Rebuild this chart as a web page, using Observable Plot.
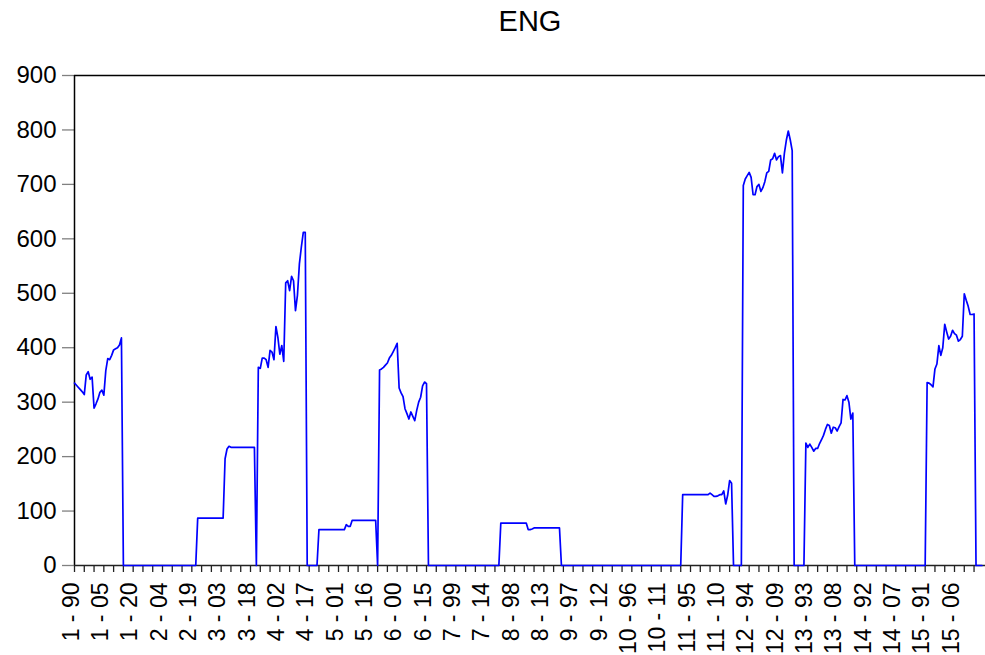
<!DOCTYPE html>
<html>
<head>
<meta charset="utf-8">
<script src="https://cdn.jsdelivr.net/npm/d3@7"></script>
<script src="https://cdn.jsdelivr.net/npm/@observablehq/plot@0.6"></script>
<style>
  html, body { margin: 0; padding: 0; background: #ffffff; }
</style>
</head>
<body>
<div id="chart"></div>
<script>
const title = "ENG";

// Values per cross-section (31 years each, 1990-2020)
const cs1  = [335,331,327,323,319,314,350,356,342,346,289,297,306,318,322,313,358,380,378,386,396,398,400,405,418,0,0,0,0,0,0];
const cs2  = [0,0,0,0,0,0,0,0,0,0,0,0,0,0,0,0,0,0,0,0,0,0,0,0,0,0,0,0,0,0,0];
const cs3  = [0,87,87,87,87,87,87,87,87,87,87,87,87,87,87,196,214,219,217,217,217,217,217,217,217,217,217,217,217,217,217];
const cs4  = [0,364,362,381,381,378,364,395,392,378,439,419,388,404,375,519,523,505,531,523,468,496,554,585,612,612,0,0,0,0,0];
const cs5  = [0,66,66,66,66,66,66,66,66,66,66,66,66,66,66,75,72,72,83,83,83,83,83,83,83,83,83,83,83,83,83];
const cs6  = [0,359,361,364,368,372,381,386,393,400,408,326,317,310,288,279,269,282,274,266,285,300,309,330,337,334,0,0,0,0,0];
const cs7  = [0,0,0,0,0,0,0,0,0,0,0,0,0,0,0,0,0,0,0,0,0,0,0,0,0,0,0,0,0,0,0];
const cs8  = [0,78,78,78,78,78,78,78,78,78,78,78,78,78,78,66,66,67,69,69,69,69,69,69,69,69,69,69,69,69,69];
const cs9  = [69,0,0,0,0,0,0,0,0,0,0,0,0,0,0,0,0,0,0,0,0,0,0,0,0,0,0,0,0,0,0];
const cs10 = [0,0,0,0,0,0,0,0,0,0,0,0,0,0,0,0,0,0,0,0,0,0,0,0,0,0,0,0,0,0,0];
const cs11 = [0,130,130,130,130,130,130,130,130,130,130,130,130,130,130,133,130,127,127,128,130,130,137,113,129,156,151,0,0,0,0];
const cs12 = [0,698,710,716,722,713,681,681,696,700,687,694,705,721,724,745,747,757,745,751,753,721,757,781,798,782,762,0,0,0,0];
const cs13 = [0,0,225,217,223,217,210,215,215,224,231,239,250,259,257,243,254,253,247,255,262,305,304,312,300,269,280,0,0,0,0];
const cs14 = [0,0,0,0,0,0,0,0,0,0,0,0,0,0,0,0,0,0,0,0,0,0,0,0,0,0,0,0,0,0,0];
const cs15 = [0,0,336,335,332,328,361,370,404,386,400,443,429,416,421,432,426,423,412,415,421,499,487,476,461,461,462,0,0,0,0];

const crossSections = [cs1,cs2,cs3,cs4,cs5,cs6,cs7,cs8,cs9,cs10,cs11,cs12,cs13,cs14,cs15];

// Axis tick labels (every 15th observation)
const tickLabels = ["1 - 90","1 - 05","1 - 20","2 - 04","2 - 19","3 - 03","3 - 18","4 - 02","4 - 17","5 - 01","5 - 16",
  "6 - 00","6 - 15","7 - 99","7 - 14","8 - 98","8 - 13","9 - 97","9 - 12","10 - 96","10 - 11","11 - 95","11 - 10",
  "12 - 94","12 - 09","13 - 93","13 - 08","14 - 92","14 - 07","15 - 91","15 - 06"];
const labelEvery = 15;
const minorEvery = 5;
const yTicks = [0,100,200,300,400,500,600,700,800,900];

// Build table
const data = [];
let offset = 0;
for (const cs of crossSections) {
  cs.forEach((v, j) => data.push({i: offset + j, v}));
  offset += cs.length;
}
const minorTicks = d3.range(0, 461, minorEvery);
const labelPos = tickLabels.map((d, k) => k * labelEvery);

const font = "'Liberation Sans', Arial, Helvetica, sans-serif";

const chart = Plot.plot({
  width: 985,
  height: 655,
  marginLeft: 74,
  marginRight: 0,
  marginTop: 75,
  marginBottom: 90,
  x: {domain: [0, 465.85]},
  y: {domain: [0, 900]},
  style: {fontFamily: font, fontSize: "24px", color: "black", background: "white"},
  marks: [
    Plot.axisY({ticks: yTicks, tickSize: 12, tickPadding: 6, fontSize: 24, stroke: "#808080", strokeWidth: 1.3, fill: "black", label: null}),
    Plot.axisX({ticks: minorTicks, tickSize: 7, tickFormat: () => "", stroke: "#222", strokeWidth: 1.3, label: null}),
    Plot.text(tickLabels, {x: (d, k) => labelPos[k], y: 0, text: d => d, rotate: -90, textAnchor: "end", lineAnchor: "bottom", dx: 4, dy: 17, fontSize: 23, fill: "black"}),
    Plot.ruleY([900], {stroke: "black", strokeWidth: 1.5}),
    Plot.ruleX([0], {stroke: "black", strokeWidth: 1.5}),
    Plot.ruleY([0], {stroke: "#222", strokeWidth: 1.5}),
    Plot.line(data, {x: "i", y: "v", stroke: "#0000ff", strokeWidth: 1.7}),
    Plot.text([title], {frameAnchor: "top", lineAnchor: "top", dy: -65, fontSize: 29, fill: "black"})
  ]
});
document.getElementById("chart").appendChild(chart);
</script>
</body>
</html>
